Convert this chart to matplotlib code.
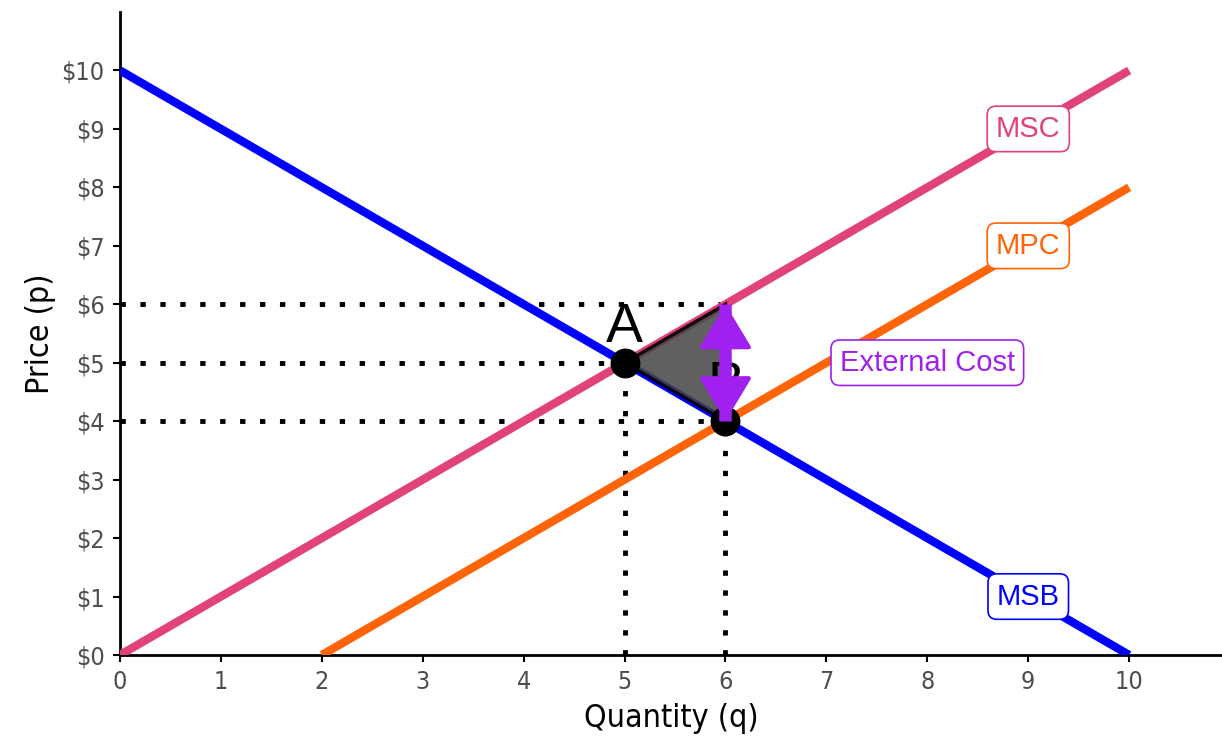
import matplotlib
matplotlib.use("Agg")
import matplotlib.pyplot as plt
from matplotlib.patches import Polygon, FancyArrowPatch

# supply / demand curves (quantity, price)
msb_q = [0, 10]
msb_p = [10, 0]
msc_q = [0, 10]
msc_p = [0, 10]
mpc_q = [2, 10]
mpc_p = [0, 8]

# equilibrium points
pts_q = [5, 6]
pts_p = [5, 4]
pts_lab = ["A", "B"]

# dotted guides
hlines_p = [6, 5, 4]
hlines_q = [6, 5, 6]
vlines_q = [5, 6]
vlines_p = [5, 6]

# deadweight loss triangle
dwl_q = [5, 6, 6]
dwl_p = [5, 6, 4]

# external cost arrow
arrow_q = [6, 6]
arrow_p = [4, 6]

curve_labels = ["MSC", "MPC", "MSB"]
curve_label_q = [9, 9, 9]
curve_label_p = [9, 7, 1]

xticks = list(range(0, 11))
yticks = list(range(0, 11))
ytick_labels = ["$" + str(v) for v in yticks]

BLUE = "#0000FF"
PINK = "#E24377"
ORANGE = "#FF6508"
PURPLE = "#A020F0"

tick_font = ["DejaVu Sans"]
label_font = ["Liberation Sans", "DejaVu Sans"]

fig = plt.figure(figsize=(12.22, 7.43), dpi=100)
ax = fig.add_axes([120 / 1222, 88 / 743, 1102 / 1222, 643 / 743])

for q, p in zip(hlines_q, hlines_p):
    ax.plot([0, q], [p, p], color="black", lw=3.5, ls=(0, (1.1, 3.0)), zorder=2)
for q, p in zip(vlines_q, vlines_p):
    ax.plot([q, q], [0, p], color="black", lw=3.5, ls=(0, (1.1, 3.0)), zorder=2)

ax.plot(msc_q, msc_p, color=PINK, lw=6, solid_capstyle="butt", zorder=3)
ax.plot(mpc_q, mpc_p, color=ORANGE, lw=6, solid_capstyle="butt", zorder=3)
ax.plot(msb_q, msb_p, color=BLUE, lw=6, solid_capstyle="butt", zorder=3)

ax.add_patch(Polygon(list(zip(dwl_q, dwl_p)), closed=True, facecolor="#444444",
                     edgecolor="black", lw=2.5, alpha=0.85, zorder=4))

ax.scatter(pts_q, pts_p, s=420, color="black", zorder=5)
for q, p, t in zip(pts_q, pts_p, pts_lab):
    ax.text(q, p + 0.15, t, fontsize=40, family=label_font, ha="center", va="bottom", zorder=5)

ax.plot(arrow_q, arrow_p, color=PURPLE, lw=9, solid_capstyle="butt", zorder=6)
ax.add_patch(FancyArrowPatch((arrow_q[0], arrow_p[0]), (arrow_q[1], arrow_p[1]),
                             arrowstyle="<|-|>,head_length=0.7,head_width=0.42",
                             mutation_scale=40, color=PURPLE, lw=3, shrinkA=0, shrinkB=0,
                             joinstyle="round", capstyle="round", zorder=6))

for t, q, p, c in zip(curve_labels, curve_label_q, curve_label_p, [PINK, ORANGE, BLUE]):
    ax.text(q, p, t, color=c, fontsize=21, family=label_font, ha="center", va="center",
            bbox=dict(boxstyle="round,pad=0.3,rounding_size=0.3", fc="white", ec=c, lw=1.2), zorder=7)
ax.text(8, 5, "External Cost", color=PURPLE, fontsize=21, family=label_font, ha="center", va="center",
        bbox=dict(boxstyle="round,pad=0.3,rounding_size=0.3", fc="white", ec=PURPLE, lw=1.2), zorder=7)

ax.set_xlim(0, 10.92)
ax.set_ylim(0, 11)
ax.set_xticks(xticks)
ax.set_yticks(yticks)
ax.set_yticklabels(ytick_labels)
for lab in ax.get_xticklabels() + ax.get_yticklabels():
    lab.set_family(tick_font)
    lab.set_stretch("condensed")
ax.tick_params(labelsize=18, labelcolor="#4D4D4D", color="black", width=1.5, length=5, pad=6)
ax.set_xlabel("Quantity (q)", fontsize=23, family=tick_font, fontstretch="condensed", labelpad=6)
ax.set_ylabel("Price (p)", fontsize=23, family=tick_font, fontstretch="condensed", labelpad=4)
for s in ["top", "right"]:
    ax.spines[s].set_visible(False)
for s in ["left", "bottom"]:
    ax.spines[s].set_linewidth(2)

fig.savefig("out.png", dpi=100)
